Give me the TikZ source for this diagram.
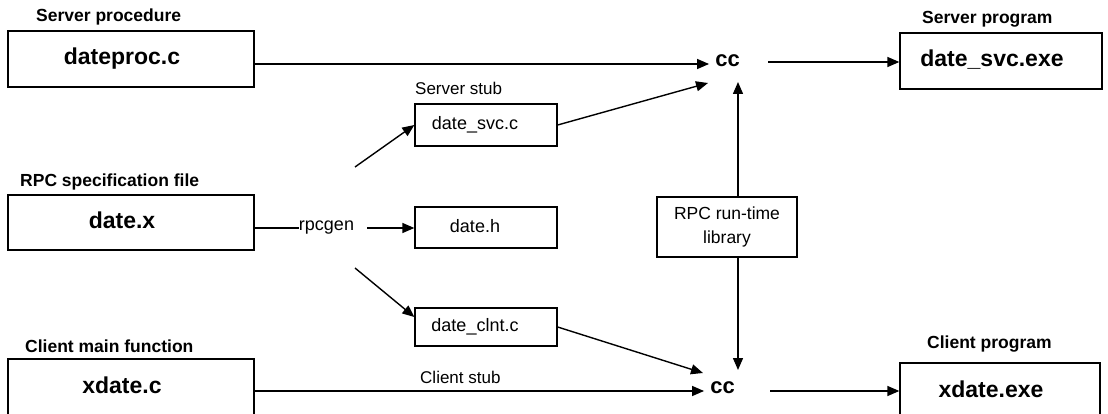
\documentclass[tikz,border=0pt]{standalone}
\usepackage{fontspec}
\setmainfont{Liberation Sans}
\usetikzlibrary{arrows.meta}
\begin{document}
\begin{tikzpicture}[x=1pt,y=-1pt,
  ln/.style={line width=1.4pt},
  arr/.style={line width=1.4pt,-{Triangle[length=12pt,width=10pt]}},
  bigbox/.style={draw,line width=1.3pt,inner sep=0pt,
    font=\fontsize{23}{26}\selectfont\bfseries,
    text height=16.5pt,text depth=4.8pt,
    execute at begin node={\hspace*{-18pt}}},
  smallbox/.style={draw,line width=1.3pt,inner sep=0pt,minimum width=142pt,
    font=\fontsize{18}{21}\selectfont,
    text height=13pt,text depth=3.8pt,
    execute at begin node={\hspace*{-22pt}}},
  captxt/.style={inner sep=0pt,anchor=base west,font=\fontsize{17.5}{20}\selectfont\bfseries},
  sublbl/.style={inner sep=0pt,anchor=base west,font=\fontsize{17}{20}\selectfont},
  ccnode/.style={inner xsep=6pt,inner ysep=0pt,text height=1ex,text depth=0pt,
    font=\fontsize{22}{24}\selectfont\bfseries}
]
\useasboundingbox (0,0) rectangle (1108,414);

% captions
\node[captxt] (capsp) at (36,22) {Server procedure};
\node[captxt] (caprpc) at (20,187) {RPC specification file};
\node[captxt] (capcm) at (25,352) {Client main function};
\node[captxt] (capsv) at (922,24) {Server program};
\node[captxt] (capcp) at (927,348) {Client program};
\node[sublbl] (capss) at (415,95) {Server stub};
\node[sublbl] (capcs) at (420,383) {Client stub};

% big boxes
\node[bigbox,minimum width=246pt,minimum height=56pt] (dproc) at (131,59) {dateproc.c};
\node[bigbox,minimum width=246pt,minimum height=55pt] (datex) at (131,222.5) {date.x};
\node[bigbox,minimum width=246pt,minimum height=57pt] (xdatec) at (131,387.5) {xdate.c};
\node[bigbox,minimum width=202pt,minimum height=56pt] (dsvcexe) at (1001,61) {date\_svc.exe};
\node[bigbox,minimum width=200pt,minimum height=57pt] (xdateexe) at (1000,391.5) {xdate.exe};

% small boxes
\node[smallbox,minimum height=42pt] (dsvcc) at (486,125) {date\_svc.c};
\node[smallbox,minimum height=41pt] (dateh) at (486,227.5) {date.h};
\node[smallbox,minimum height=38pt] (dclnt) at (486,327) {date\_clnt.c};

% library box
\node[draw,line width=1.3pt,inner sep=0pt,minimum width=140pt,minimum height=60pt,
  align=center,font=\fontsize{17.5}{24}\selectfont] (lib) at (727,227) {RPC run-time\\library};

% cc nodes
\node[ccnode] (cc1) at (727.5,64) {cc};
\node[ccnode] (cc2) at (722.5,391) {cc};

% rpcgen
\node[inner sep=0pt,text height=1ex,text depth=0pt,font=\fontsize{18}{21}\selectfont] (rpcgen) at (326.5,228) {rpcgen};

% coordinates
\coordinate (c1in2) at (708,83);
\coordinate (c1in3) at (738,82);
\coordinate (c2in2) at (703,373);
\coordinate (c2in3) at (738,370);
\coordinate (c1out) at (768,62);
\coordinate (c2out) at (770,391);
\coordinate (r1) at (355,167);
\coordinate (r2) at (355,268);
\coordinate (rpout) at (367,228);

% connectors
\draw[arr] (dproc.east |- cc1.west) -- (cc1.west);
\draw[arr] (xdatec.east |- cc2.west) -- (cc2.west);
\draw[arr] (c1out) -- (c1out -| dsvcexe.west);
\draw[arr] (c2out) -- (c2out -| xdateexe.west);
\draw[ln] (datex.east |- rpcgen.west) -- (rpcgen.west);
\draw[arr] (rpout) -- (rpout -| dateh.west);
\draw[arr] (r1) -- (dsvcc.west);
\draw[arr] (r2) -- ([yshift=10pt]dclnt.west);
\draw[arr] (dsvcc.east) -- (c1in2);
\draw[arr] (dclnt.east) -- (c2in2);
\draw[arr] (c1in3 |- lib.north) -- (c1in3);
\draw[arr] (c2in3 |- lib.south) -- (c2in3);
\end{tikzpicture}
\end{document}
